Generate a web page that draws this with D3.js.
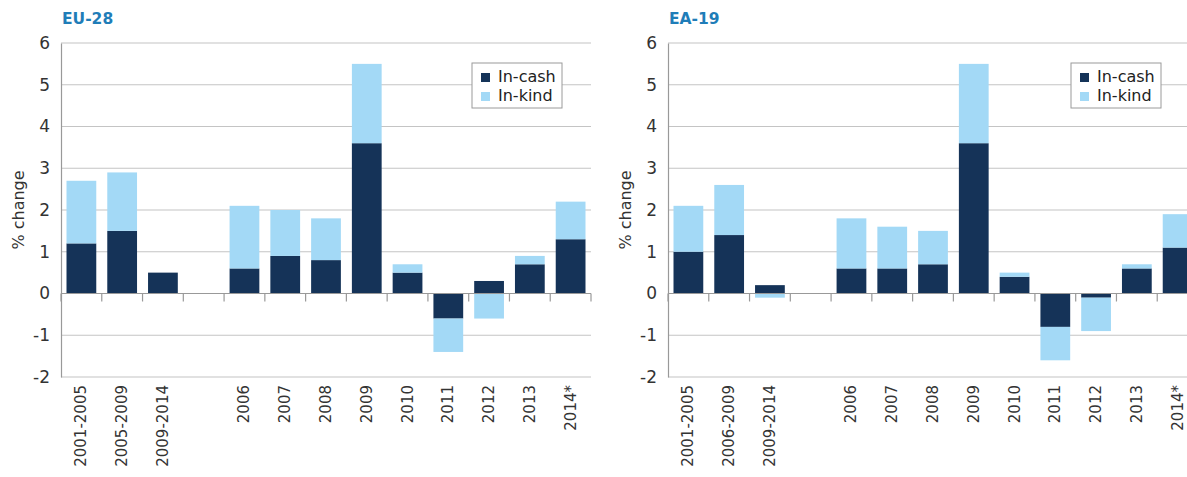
<!DOCTYPE html>
<html>
<head>
<meta charset="utf-8">
<script src="https://cdn.jsdelivr.net/npm/d3@7"></script>
<style>
  body { margin: 0; background: #fff; overflow: hidden; }
  svg { display: block; font-family: "DejaVu Sans", Verdana, sans-serif; }
</style>
</head>
<body>
<div id="container"></div>
<script>
// data
const euCategories = ["2001-2005", "2005-2009", "2009-2014", "", "2006", "2007", "2008", "2009", "2010", "2011", "2012", "2013", "2014*"];
const eaCategories = ["2001-2005", "2006-2009", "2009-2014", "", "2006", "2007", "2008", "2009", "2010", "2011", "2012", "2013", "2014*"];
const euCash = [1.2, 1.5, 0.5, 0, 0.6, 0.9, 0.8, 3.6, 0.5, -0.6, 0.3, 0.7, 1.3];
const euKind = [1.5, 1.4, 0, 0, 1.5, 1.1, 1.0, 1.9, 0.2, -0.8, -0.6, 0.2, 0.9];
const eaCash = [1.0, 1.4, 0.2, 0, 0.6, 0.6, 0.7, 3.6, 0.4, -0.8, -0.1, 0.6, 1.1];
const eaKind = [1.1, 1.2, -0.1, 0, 1.2, 1.0, 0.8, 1.9, 0.1, -0.8, -0.8, 0.1, 0.8];
const yTicks = [-2, -1, 0, 1, 2, 3, 4, 5, 6];
const seriesNames = ["In-cash", "In-kind"];

const colors = { "In-cash": "#153358", "In-kind": "#a3d9f6" };

const width = 1187, height = 477;
const svg = d3.select("#container").append("svg")
  .attr("width", width)
  .attr("height", height);

function drawPanel(title, cats, cash, kind, x0, x1, legendX) {
  const top = 43, bottom = 377;
  const g = svg.append("g");

  const rows = cats.map((c, i) => ({ key: i, cat: c, "In-cash": cash[i], "In-kind": kind[i] }));

  const x = d3.scaleBand().domain(rows.map(d => d.key)).range([x0, x1]).paddingInner(0.27).paddingOuter(0.135);
  const y = d3.scaleLinear().domain([-2, 6]).range([bottom, top]);

  // title
  g.append("text")
    .attr("x", x0 + 1).attr("y", 24)
    .attr("font-size", 15.5).attr("font-weight", "bold")
    .attr("fill", "#1f7db8")
    .text(title);

  // gridlines
  g.selectAll("line.grid")
    .data(yTicks.filter(t => t !== 0))
    .join("line")
    .attr("class", "grid")
    .attr("x1", x0).attr("x2", x1)
    .attr("y1", d => y(d)).attr("y2", d => y(d))
    .attr("stroke", "#c4c4c4").attr("stroke-width", 1.2);

  // y axis
  const yAxis = g.append("g")
    .attr("transform", `translate(${x0},0)`)
    .call(d3.axisLeft(y).tickValues(yTicks).tickSize(0).tickPadding(11).tickFormat(d => String(d)));
  yAxis.select(".domain").attr("stroke", "#999").attr("stroke-width", 1.2);
  yAxis.selectAll("text").attr("font-size", 17).attr("fill", "#333")
    .attr("font-family", "'DejaVu Sans', sans-serif");

  g.append("text")
    .attr("transform", `translate(${x0 - 37},${(top + bottom) / 2}) rotate(-90)`)
    .attr("text-anchor", "middle")
    .attr("font-size", 16).attr("fill", "#333")
    .text("% change");

  // stacked bars
  const stack = d3.stack().keys(seriesNames).offset(d3.stackOffsetDiverging);
  const layers = stack(rows);
  g.selectAll("g.layer")
    .data(layers)
    .join("g")
    .attr("class", "layer")
    .attr("fill", d => colors[d.key])
    .selectAll("rect")
    .data(d => d)
    .join("rect")
    .attr("x", d => x(d.data.key))
    .attr("width", x.bandwidth())
    .attr("y", d => y(Math.max(d[0], d[1])))
    .attr("height", d => Math.abs(y(d[0]) - y(d[1])));

  // zero axis with tick marks between categories
  const step = x.step();
  const edges = d3.range(cats.length + 1).map(i => x0 + i * step);
  g.append("line")
    .attr("x1", x0).attr("x2", x1)
    .attr("y1", y(0)).attr("y2", y(0))
    .attr("stroke", "#999").attr("stroke-width", 1.2);
  g.selectAll("line.xtick")
    .data(edges)
    .join("line")
    .attr("class", "xtick")
    .attr("x1", d => d).attr("x2", d => d)
    .attr("y1", y(0)).attr("y2", y(0) + 8)
    .attr("stroke", "#999").attr("stroke-width", 1.2);

  // category labels
  g.selectAll("text.cat")
    .data(rows)
    .join("text")
    .attr("class", "cat")
    .attr("transform", d => `translate(${x(d.key) + x.bandwidth() / 2 + 5},${bottom + 8}) rotate(-90)`)
    .attr("text-anchor", "end")
    .attr("font-size", 15).attr("fill", "#333")
    .text(d => d.cat);

  // legend
  const lg = g.append("g").attr("transform", `translate(${legendX},63)`);
  lg.append("rect")
    .attr("width", 90).attr("height", 45)
    .attr("fill", "#fff").attr("stroke", "#9a9a9a").attr("stroke-width", 1);
  const items = lg.selectAll("g.item")
    .data(seriesNames)
    .join("g")
    .attr("class", "item")
    .attr("transform", (d, i) => `translate(9,${9 + i * 19})`);
  items.append("rect")
    .attr("width", 9).attr("height", 9)
    .attr("y", 1)
    .attr("fill", d => colors[d]);
  items.append("text")
    .attr("x", 17).attr("y", 10)
    .attr("font-size", 16).attr("fill", "#222")
    .text(d => d);
}

drawPanel("EU-28", euCategories, euCash, euKind, 61, 591, 472);
drawPanel("EA-19", eaCategories, eaCash, eaKind, 668, 1198, 1071);
</script>
</body>
</html>
